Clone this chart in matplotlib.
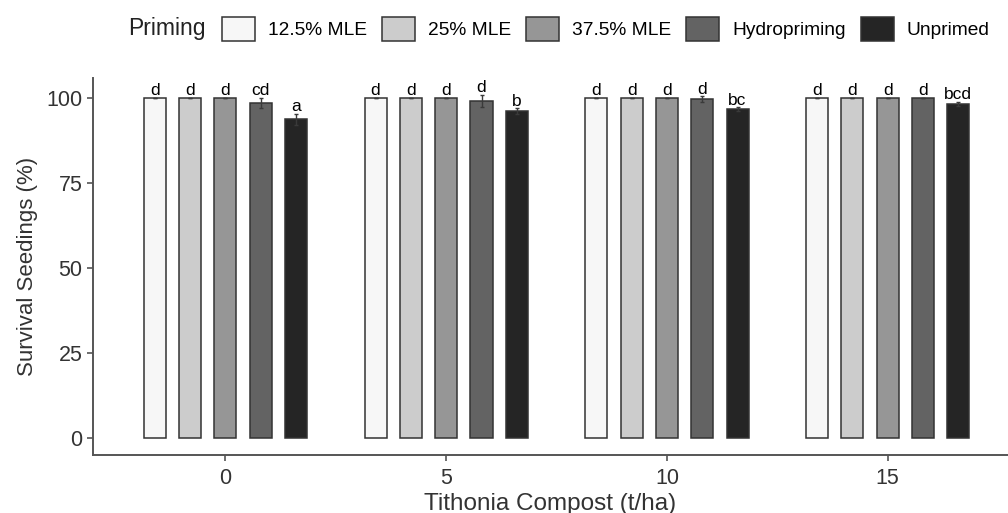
import matplotlib
matplotlib.use("Agg")
import matplotlib.pyplot as plt
import numpy as np
from matplotlib.patches import Patch

plt.rcParams['font.family'] = ['Liberation Sans', 'DejaVu Sans']

compost = ["0", "5", "10", "15"]
priming = ["12.5% MLE", "25% MLE", "37.5% MLE", "Hydropriming", "Unprimed"]
colors = ["#F7F7F7", "#CCCCCC", "#969696", "#636363", "#252525"]

# mean survival (%) per priming (rows) x compost (cols)
means = [
    [100.0, 100.0, 100.0, 100.0],
    [100.0, 100.0, 100.0, 100.0],
    [100.0, 100.0, 100.0, 100.0],
    [98.6, 99.2, 99.7, 100.0],
    [93.8, 96.2, 96.7, 98.2],
]
errors = [
    [0.0, 0.0, 0.0, 0.0],
    [0.0, 0.0, 0.0, 0.0],
    [0.0, 0.0, 0.0, 0.0],
    [1.4, 1.8, 0.8, 0.0],
    [1.6, 0.8, 0.6, 0.6],
]
letters = [
    ["d", "d", "d", "d"],
    ["d", "d", "d", "d"],
    ["d", "d", "d", "d"],
    ["cd", "d", "d", "d"],
    ["a", "b", "bc", "bcd"],
]

fig = plt.figure(figsize=(10.08, 5.13), dpi=100)
ax = fig.add_axes([93/1008, 58/513, 1 - 93/1008, (455-78)/513])

x = np.arange(len(compost))
step = 0.16
width = 0.1
for i, p in enumerate(priming):
    xs = x + (i - 2) * step
    ax.bar(xs, means[i], width=width, color=colors[i], edgecolor="#333333",
           linewidth=1.1, zorder=2)
    ax.errorbar(xs, means[i], yerr=errors[i], fmt="none", ecolor="#3a3a3a",
                elinewidth=1.0, capsize=1.5, capthick=1.0, zorder=3)
    for j in range(len(compost)):
        ax.text(xs[j], means[i][j] + errors[i][j] + 0.8, letters[i][j],
                ha="center", va="baseline", fontsize=12.5, color="black", zorder=4)

ax.set_xlim(-0.6, 3.545)
ax.set_ylim(-5, 105.9)
ax.set_xticks(x)
ax.set_xticklabels(compost)
ax.set_yticks([0, 25, 50, 75, 100])
for s in ["top", "right"]:
    ax.spines[s].set_visible(False)
for s in ["left", "bottom"]:
    ax.spines[s].set_color("#555555")
    ax.spines[s].set_linewidth(1.4)
ax.tick_params(axis="both", colors="#555555", length=4, width=1.2, labelsize=15.5,
               labelcolor="#333333")
ax.tick_params(axis="x", pad=5)
ax.set_xlabel("Tithonia Compost (t/ha)", fontsize=17.5, color="#333333", labelpad=3)
ax.set_ylabel("Survival Seedings (%)", fontsize=16, color="#333333", labelpad=6)

fig.text(128/1008, 1 - 29/513, "Priming", fontsize=16.5, color="#222222",
         ha="left", va="center")
handles = [Patch(facecolor=c, edgecolor="#333333", linewidth=1.1) for c in colors]
fig.legend(handles, priming, loc="center left", bbox_to_anchor=(222/1008, 1 - 29/513),
           ncol=5, frameon=False, fontsize=13.8, handlelength=1.72, handleheight=1.57,
           handletextpad=0.68, columnspacing=0.78, borderpad=0, borderaxespad=0)

fig.savefig("out.png", dpi=100)
